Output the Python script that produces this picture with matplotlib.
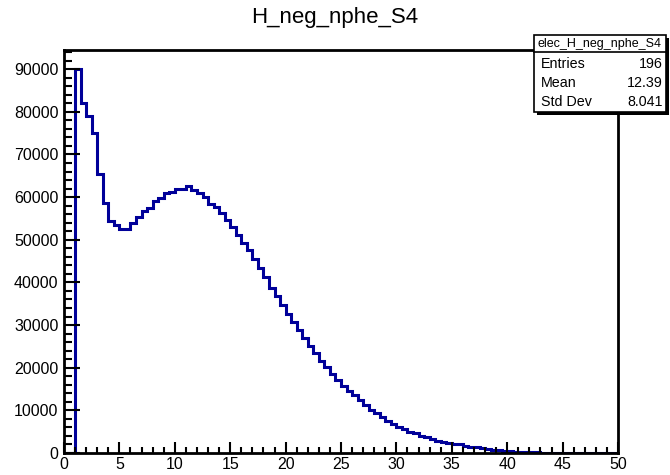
import numpy as np
import matplotlib
matplotlib.use("Agg")
import matplotlib.pyplot as plt
from matplotlib.patches import Rectangle

# ======================
# Histogram data (100 bins, 0 -> 50)
# ======================
x_min = 0.0
x_max = 50.0
n_bins = 100

counts = [
    0, 0, 90000, 82000, 79000, 75000, 65500, 58700, 54500, 53400,
    52500, 52500, 54000, 55300, 56700, 57500, 59000, 59800, 60900, 61300,
    61800, 62000, 62700, 61700, 60900, 60000, 58500, 57600, 56200, 54600,
    53000, 51100, 49300, 47500, 45400, 43300, 41200, 38800, 36800, 34700,
    32600, 30800, 28800, 26900, 25100, 23400, 21600, 20100, 18600, 17200,
    15800, 14600, 13500, 12400, 11200, 10200, 9300, 8400, 7500, 6800,
    6200, 5600, 5000, 4600, 4100, 3700, 3300, 2900, 2600, 2400,
    2200, 2000, 1700, 1500, 1300, 1100, 900, 750, 600, 500,
    400, 320, 260, 200, 160, 120, 100, 80, 60, 50,
    40, 30, 20, 20, 15, 10, 10, 5, 5, 3,
]

title = "H_neg_nphe_S4"
stats_name = "elec_H_neg_nphe_S4"
stats_labels = ["Entries", "Mean", "Std Dev"]
stats_values = ["196", "12.39", "8.041"]

x_ticks = [0, 5, 10, 15, 20, 25, 30, 35, 40, 45, 50]
y_ticks = [0, 10000, 20000, 30000, 40000, 50000, 60000, 70000, 80000, 90000]

# ======================
# Figure setup
# ======================
W, H = 670, 475
plt.rcParams['font.family'] = ['Liberation Sans', 'DejaVu Sans']

fig = plt.figure(figsize=(W / 100, H / 100), dpi=100)

def fx(px):
    return px / W

def fy(py):
    return 1 - py / H

ax = fig.add_axes([fx(64), fy(453), fx(618) - fx(64), fy(50) - fy(453)])

edges = np.linspace(x_min, x_max, n_bins + 1)
ax.stairs(counts, edges, color='#000099', linewidth=2.2, baseline=0)

ax.set_xlim(x_min, x_max)
ax.set_ylim(0, max(counts) * 1.05)

ax.set_xticks(x_ticks)
ax.set_xticks(np.arange(0, 51, 1), minor=True)
ax.set_yticks(y_ticks)
ax.set_yticks(np.arange(0, 94001, 2000), minor=True)

ax.tick_params(axis='x', which='major', direction='in', length=8, width=1.5,
               labelsize=11.5, pad=3)
ax.tick_params(axis='x', which='minor', direction='in', length=4, width=1.5)
ax.tick_params(axis='y', which='major', direction='in', length=11.5, width=1.5,
               labelsize=11.5, pad=4)
ax.tick_params(axis='y', which='minor', direction='in', length=5.8, width=1.5)

for s in ax.spines.values():
    s.set_linewidth(2)
    s.set_color('black')

# title
fig.text(fx(335), fy(18), title, ha='center', va='center', fontsize=16)

# ======================
# Stats box
# ======================
bx0, bx1, by0, by1 = 534, 666, 35, 112
shadow = Rectangle((fx(bx0 + 3), fy(by1 + 3)), fx(bx1) - fx(bx0), fy(by0) - fy(by1),
                   transform=fig.transFigure, facecolor='black', edgecolor='black', lw=0)
box = Rectangle((fx(bx0), fy(by1)), fx(bx1) - fx(bx0), fy(by0) - fy(by1),
                transform=fig.transFigure, facecolor='white', edgecolor='black', lw=1.2)
fig.add_artist(shadow)
fig.add_artist(box)
fig.add_artist(plt.Line2D([fx(bx0), fx(bx1)], [fy(52), fy(52)],
                          transform=fig.transFigure, color='black', lw=1.2))

fig.text(fx(600), fy(44), stats_name, ha='center', va='center', fontsize=9)
row_y = [63.5, 83, 102.5]
for lab, val, yy in zip(stats_labels, stats_values, row_y):
    fig.text(fx(541), fy(yy), lab, ha='left', va='center', fontsize=10.3)
    fig.text(fx(663), fy(yy), val, ha='right', va='center', fontsize=10.3)

fig.savefig("out.png", dpi=100)
